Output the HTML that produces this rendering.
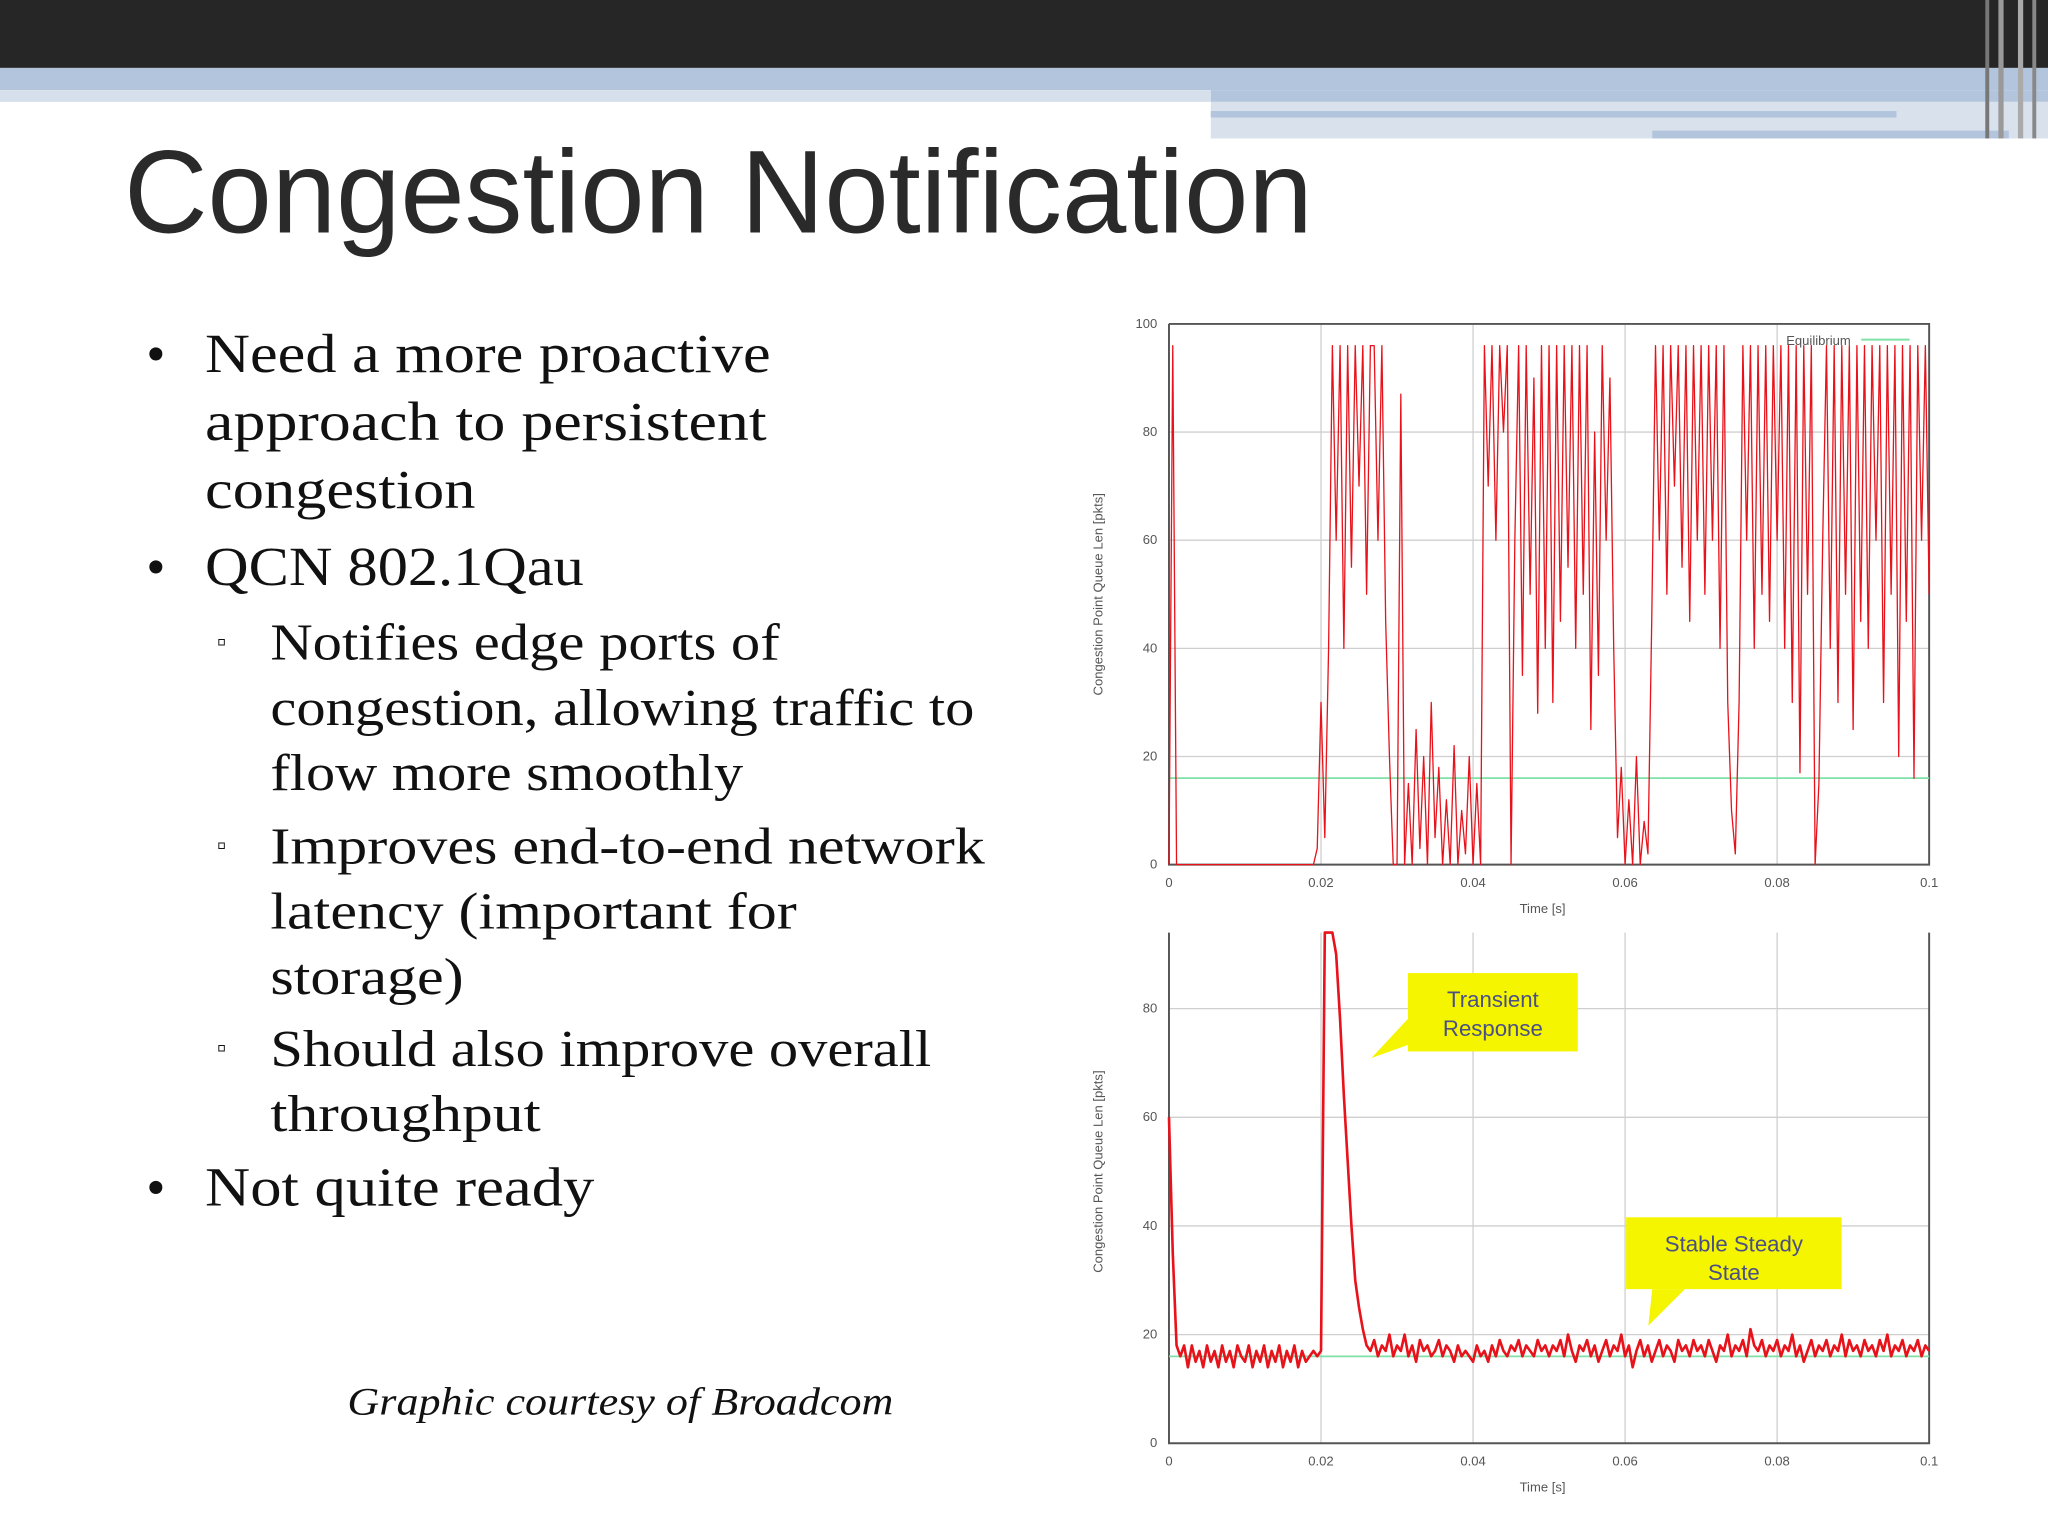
<!DOCTYPE html>
<html><head><meta charset="utf-8"><style>
html,body{margin:0;padding:0;background:#fff;}
svg{display:block;}
.b{font-family:"Liberation Serif",serif;fill:#111;}
.t{font-family:"Liberation Sans",sans-serif;fill:#555;font-size:10px;}
</style></head><body>
<svg id="slide" width="2048" height="1536" viewBox="0 0 1568 1176" xmlns="http://www.w3.org/2000/svg">
<g>
<rect x="0" y="0" width="1568" height="52" fill="#262626"/>
<rect x="0" y="52" width="1568" height="17" fill="#b3c5dc"/>
<rect x="0" y="69" width="927" height="9" fill="#d6e0ec"/>
<rect x="927" y="69" width="641" height="9" fill="#b3c5dc"/>
<rect x="927" y="78" width="641" height="28" fill="#d8e1ec"/>
<rect x="927" y="85" width="525" height="5" fill="#b3c5dc"/>
<rect x="1265" y="100" width="273" height="6" fill="#b3c5dc"/>
<rect x="1520" y="0" width="3" height="106" fill="#777"/>
<rect x="1530" y="0" width="4" height="106" fill="#999"/>
<rect x="1545" y="0" width="4" height="106" fill="#aaa"/>
<rect x="1556" y="0" width="3" height="106" fill="#888"/>
</g>
<text x="95" y="178" font-family="Liberation Sans, sans-serif" font-size="90" fill="#2a2a2a" textLength="910" lengthAdjust="spacingAndGlyphs">Congestion Notification</text>
<g>
<text class="b" font-size="42" x="112" y="285">•</text>
<text class="b" font-size="42" x="157" y="285" textLength="433" lengthAdjust="spacingAndGlyphs">Need a more proactive</text>
<text class="b" font-size="42" x="157" y="337" textLength="430" lengthAdjust="spacingAndGlyphs">approach to persistent</text>
<text class="b" font-size="42" x="157" y="389" textLength="207" lengthAdjust="spacingAndGlyphs">congestion</text>
<text class="b" font-size="42" x="112" y="448">•</text>
<text class="b" font-size="42" x="157" y="448" textLength="290" lengthAdjust="spacingAndGlyphs">QCN 802.1Qau</text>
<text class="b" font-size="20" x="166" y="498">▫</text>
<text class="b" font-size="40" x="207" y="505" textLength="390" lengthAdjust="spacingAndGlyphs">Notifies edge ports of</text>
<text class="b" font-size="40" x="207" y="555" textLength="539" lengthAdjust="spacingAndGlyphs">congestion, allowing traffic to</text>
<text class="b" font-size="40" x="207" y="605" textLength="362" lengthAdjust="spacingAndGlyphs">flow more smoothly</text>
<text class="b" font-size="20" x="166" y="654">▫</text>
<text class="b" font-size="40" x="207" y="661" textLength="547" lengthAdjust="spacingAndGlyphs">Improves end-to-end network</text>
<text class="b" font-size="40" x="207" y="711" textLength="403" lengthAdjust="spacingAndGlyphs">latency (important for</text>
<text class="b" font-size="40" x="207" y="761" textLength="148" lengthAdjust="spacingAndGlyphs">storage)</text>
<text class="b" font-size="20" x="166" y="809">▫</text>
<text class="b" font-size="40" x="207" y="816" textLength="506" lengthAdjust="spacingAndGlyphs">Should also improve overall</text>
<text class="b" font-size="40" x="207" y="866" textLength="207" lengthAdjust="spacingAndGlyphs">throughput</text>
<text class="b" font-size="42" x="112" y="923">•</text>
<text class="b" font-size="42" x="157" y="923" textLength="298" lengthAdjust="spacingAndGlyphs">Not quite ready</text>
</g>
<text class="b" font-size="30" font-style="italic" x="266" y="1083" textLength="418" lengthAdjust="spacingAndGlyphs">Graphic courtesy of Broadcom</text>
<g id="chart1"></g>
<g id="chart2"></g>
</svg>
<script>
const xTicks = [0, 0.02, 0.04, 0.06, 0.08, 0.1];
const xTickLabels = ["0", "0.02", "0.04", "0.06", "0.08", "0.1"];
const yTicks1 = [0, 20, 40, 60, 80, 100];
const yTicks2 = [0, 20, 40, 60, 80];
const equilibrium = 16;
const dt = 0.0005;
const queueUnstable = [
0,96,0,0,0,0,0,0,0,0,0,0,0,0,0,0,0,0,0,0,
0,0,0,0,0,0,0,0,0,0,0,0,0,0,0,0,0,0,0,3,
30,5,40,96,60,96,40,96,55,96,70,96,50,96,96,60,96,45,20,0,
0,87,0,15,0,25,3,20,0,30,5,18,0,12,0,22,0,10,2,20,
0,15,0,96,70,96,60,96,80,96,0,60,96,35,96,50,90,28,96,40,
96,30,96,45,96,55,96,40,96,50,96,25,80,35,96,60,90,40,5,18,
0,12,0,20,0,8,2,45,96,60,96,50,96,70,96,55,96,45,96,60,
96,50,96,60,96,40,96,30,10,2,30,96,60,96,40,96,50,96,45,96,
60,96,40,96,30,96,17,96,50,96,0,15,60,96,40,96,30,96,50,96,
25,96,45,96,40,96,60,96,30,96,50,96,20,96,45,96,16,96,60,96,50];
const queueStable = [
60,35,18,16,18,14,18,15,17,14,18,15,17,14,18,15,17,14,18,16,
15,18,14,17,15,18,14,17,15,18,14,17,15,18,14,17,15,16,17,16,
17,94,96,96,90,78,64,52,40,30,25,21,18,17,19,16,18,17,20,16,
18,17,20,16,18,15,19,17,18,16,17,19,16,18,17,15,18,16,17,16,
15,18,16,17,15,18,16,19,17,16,18,17,19,16,18,17,16,19,17,18,
16,18,17,19,16,20,17,15,18,17,19,16,18,15,17,19,16,18,17,20,
16,18,14,17,19,16,18,15,17,19,16,18,17,15,19,17,18,16,19,17,
18,16,19,17,15,18,17,20,16,18,17,19,16,21,18,17,19,16,18,17,
19,16,18,17,20,16,18,15,17,19,16,18,17,19,16,18,17,20,16,19,
17,18,16,19,17,18,16,19,17,20,16,18,17,19,16,18,17,19,16,18,17];

const NS = "http://www.w3.org/2000/svg";
function mk(parent, tag, attrs) {
  const e = document.createElementNS(NS, tag);
  for (const k in attrs) e.setAttribute(k, attrs[k]);
  parent.appendChild(e);
  return e;
}
function drawChart(g, cfg) {
  const xS = v => cfg.x0 + (v - 0) / 0.1 * (cfg.x1 - cfg.x0);
  const yS = v => cfg.y0 - v / cfg.yMax * (cfg.y0 - cfg.yTop);
  const top = cfg.yTop;
  // grid
  xTicks.forEach((t, i) => {
    if (i > 0 && i < xTicks.length - 1) {
      const l = mk(g, "line", {x1: xS(t), x2: xS(t), y1: top, y2: cfg.y0, stroke: "#cfcfcf", "stroke-width": 1});
      
      
    }
    const tx = mk(g, "text", {x: xS(t), y: cfg.y0 + 17, "text-anchor": "middle", class: "t"});
    
    
    tx.textContent = xTickLabels[i];
  });
  cfg.yTicks.forEach(t => {
    if (t > 0 && t < 100) {
      const l = mk(g, "line", {x1: cfg.x0, x2: cfg.x1, y1: yS(t), y2: yS(t), stroke: "#cfcfcf", "stroke-width": 1});
      
      
    }
    const tx = mk(g, "text", {x: cfg.x0 - 9, y: yS(t) + 3, "text-anchor": "end", class: "t"});
    
    
    tx.textContent = String(t);
  });
  // axes
  const ax = mk(g, "path", {d: `M${cfg.x0},${top} V${cfg.y0} H${cfg.x1} V${top}` + (cfg.box ? ` H${cfg.x0}` : ""), fill: "none", stroke: "#555", "stroke-width": 1.5});
  
  
  // equilibrium
  const eq = mk(g, "line", {x1: cfg.x0, x2: cfg.x1, y1: yS(equilibrium), y2: yS(equilibrium), stroke: "#7fe0a8", "stroke-width": 1.3});
  
  
  // series
  let d = "";
  cfg.data.forEach((v, i) => {
    const vv = Math.min(v, cfg.yMax);
    d += (i ? "L" : "M") + xS(i * dt).toFixed(1) + "," + yS(vv).toFixed(1);
  });
  const p = mk(g, "path", {d: d, fill: "none", stroke: "#e8121a", "stroke-width": cfg.sw, "stroke-linejoin": "round"});
  
  
  // titles
  const yt = mk(g, "text", {x: 0, y: 0, "text-anchor": "middle", class: "t", transform: `translate(${cfg.x0 - 51},${cfg.yMid}) rotate(-90)`});
  
  
  yt.textContent = "Congestion Point Queue Len [pkts]";
  const xt = mk(g, "text", {x: (cfg.x0 + cfg.x1) / 2 - 5, y: cfg.y0 + 37, "text-anchor": "middle", class: "t"});
  
  
  xt.textContent = "Time [s]";
  return {xS, yS};
}
const g1 = document.getElementById("chart1");
drawChart(g1, {x0: 895, x1: 1477, y0: 662, yTop: 248, yMax: 100, yTicks: yTicks1, data: queueUnstable, sw: 1, box: true, yMid: 455});
const leg = mk(g1, "g", {});


const lt = mk(leg, "text", {x: 1417, y: 264, "text-anchor": "end", class: "t"});
lt.textContent = "Equilibrium";
mk(leg, "line", {x1: 1425, x2: 1462, y1: 260, y2: 260, stroke: "#7fe0a8", "stroke-width": 1.5});

const g2 = document.getElementById("chart2");
drawChart(g2, {x0: 895, x1: 1477, y0: 1105, yTop: 714, yMax: 94, yTicks: yTicks2, data: queueStable, sw: 2, box: false, yMid: 897});
function callout(g, name, bx, by, bw, bh, tip, base1, base2, lines) {
  const c = mk(g, "g", {});
  
  
  mk(c, "polygon", {points: `${base1[0]},${base1[1]} ${tip[0]},${tip[1]} ${base2[0]},${base2[1]}`, fill: "#f5f500"});
  mk(c, "rect", {x: bx, y: by, width: bw, height: bh, fill: "#f5f500"});
  lines.forEach((s, i) => {
    const t = mk(c, "text", {x: bx + bw / 2, y: by + 26 + i * 22, "text-anchor": "middle", "font-family": "Liberation Sans, sans-serif", "font-size": 17, fill: "#4a4f86"});
    t.textContent = s;
  });
}
callout(g2, "transient-response-callout", 1078, 745, 130, 60, [1050, 810], [1078, 780], [1078, 800], ["Transient", "Response"]);
callout(g2, "steady-state-callout", 1245, 932, 165, 55, [1262, 1015], [1265, 987], [1290, 987], ["Stable Steady", "State"]);
</script>
</body></html>
